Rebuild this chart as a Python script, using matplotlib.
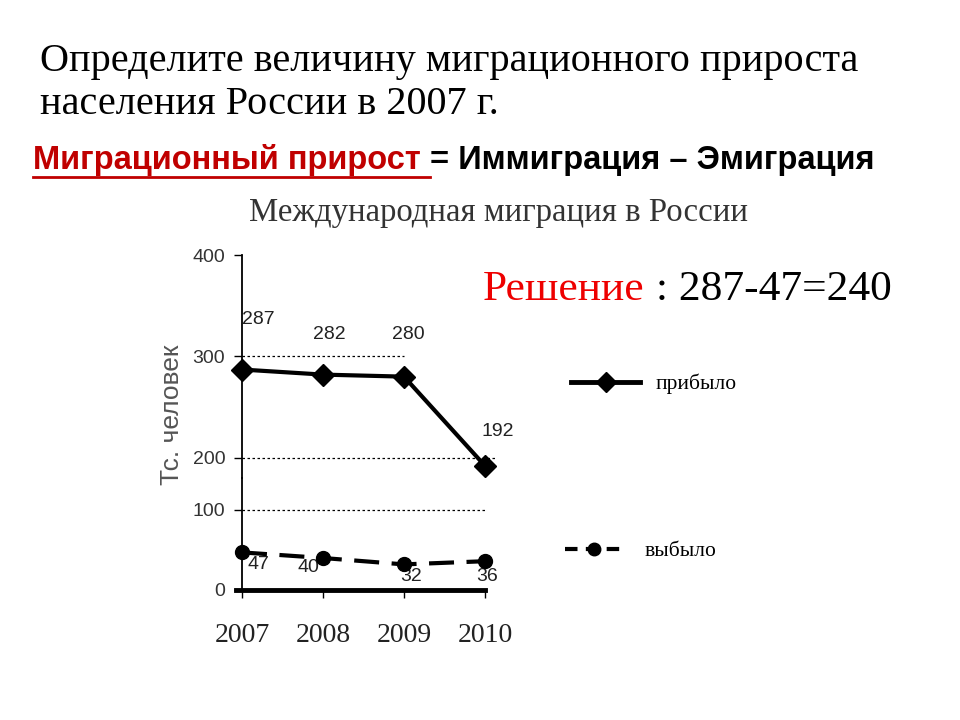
import matplotlib
matplotlib.use('Agg')
import matplotlib.pyplot as plt
from matplotlib.lines import Line2D

# данные графика
years = [2007, 2008, 2009, 2010]
arrived = [287, 282, 280, 192]    # прибыло, тыс. человек
departed = [47, 40, 32, 36]       # выбыло, тыс. человек
upper_ticks = [400, 300, 200]
lower_ticks = [100, 0]

W, H = 960, 720
fig = plt.figure(figsize=(9.6, 7.2), dpi=100)
fig.patch.set_facecolor('white')

def fx(px):
    return px / W

def fy(py):
    return 1 - py / H

# --- тексты слайда ---
fig.text(fx(40), fy(62), 'Определите величину миграционного прироста',
         family='Liberation Serif', fontsize=29, va='center', ha='left')
fig.text(fx(40), fy(105), 'населения России в 2007 г.',
         family='Liberation Serif', fontsize=29, va='center', ha='left')

t1 = fig.text(fx(33), fy(160), 'Миграционный прирост ', family='Liberation Sans',
              fontweight='bold', fontsize=23.5, color='#C00000', va='center', ha='left')
fig.canvas.draw()
bb = t1.get_window_extent()
fig.text(bb.x1 / W, fy(160), '= Иммиграция – Эмиграция', family='Liberation Sans',
         fontweight='bold', fontsize=23.5, color='black', va='center', ha='left')
# подчёркивание
fig.add_artist(Line2D([bb.x0 / W, bb.x1 / W], [fy(177), fy(177)], color='#C00000', lw=2))

fig.text(fx(498), fy(213), 'Международная миграция в России', family='Liberation Serif',
         fontsize=23.6, color='#333333', va='center', ha='center')

t2 = fig.text(fx(483), fy(290), 'Решение', family='Liberation Serif', fontsize=31.3,
              color='#EE0000', va='center', ha='left')
fig.canvas.draw()
bb2 = t2.get_window_extent()
fig.text(bb2.x1 / W, fy(290), ' : 287-47=240', family='Liberation Serif', fontsize=31.3,
         color='black', va='center', ha='left')

# --- оси: верхняя и нижняя части разорванной шкалы ---
left, right = 242, 500
ax_top = fig.add_axes([fx(left), fy(478), fx(right - left), (478 - 255) / H])
ax_bot = fig.add_axes([fx(left), fy(590), fx(right - left), (590 - 478) / H])

xmax = 2010 + 15 / 81
for ax in (ax_top, ax_bot):
    ax.set_xlim(2007, xmax)
    ax.patch.set_alpha(0)
    ax.spines['top'].set_visible(False)
    ax.spines['right'].set_visible(False)
    ax.spines['left'].set_linewidth(1.3)
    ax.tick_params(axis='y', length=6, width=1, labelsize=14, labelcolor='#333333', pad=6)

ax_top.set_ylim(180, 400)
ax_top.spines['bottom'].set_visible(False)
ax_top.set_xticks([])
ax_top.set_yticks(upper_ticks)

ax_bot.set_ylim(0, 140)
ax_bot.set_yticks(lower_ticks)
ax_bot.spines['bottom'].set_linewidth(3.5)
ax_bot.spines['bottom'].set_bounds(2007 - 6 / 81, 2010)
ax_bot.set_xticks(years)
ax_bot.set_xticklabels([str(y) for y in years], family='Liberation Serif',
                       fontsize=20, color='#222222')
ax_bot.tick_params(axis='x', length=6, width=1, pad=18)

for ax in (ax_top, ax_bot):
    for lab in ax.get_yticklabels():
        lab.set_family('Liberation Sans')

# пунктирные линии сетки
ax_top.hlines(300, 2007, 2009, colors='black', linestyles=(0, (2, 2)), lw=0.9)
ax_top.hlines(200, 2007, 2010 + 12 / 81, colors='black', linestyles=(0, (2, 2)), lw=0.9)
ax_bot.hlines(100, 2007, 2010, colors='black', linestyles=(0, (2, 2)), lw=0.9)

# линии данных
ax_top.plot(years, arrived, color='black', lw=3, marker='D', markersize=11,
            clip_on=False, zorder=5)
ax_bot.plot(years, departed, color='black', lw=3, ls=(0, (6, 3)), marker='o',
            markersize=10, clip_on=False, zorder=5)

# подписи значений
up_off = [(16, 50), (6, 40), (4, 42), (13, 34)]
dn_off = [(16, -12), (-15, -9), (7, -12), (2, -15)]
for x, y, (dx, dy) in zip(years, arrived, up_off):
    ax_top.annotate(str(y), (x, y), xytext=(dx * 0.72, dy * 0.72), textcoords='offset points',
                    ha='center', va='center', family='Liberation Sans', fontsize=14,
                    color='#222222', annotation_clip=False)
for x, y, (dx, dy) in zip(years, departed, dn_off):
    ax_bot.annotate(str(y), (x, y), xytext=(dx * 0.72, dy * 0.72), textcoords='offset points',
                    ha='center', va='center', family='Liberation Sans', fontsize=14,
                    color='#222222', annotation_clip=False)

fig.text(fx(172), fy(415), 'Тс. человек', rotation=90, family='Liberation Sans',
         fontsize=19, color='#555555', va='center', ha='center')

# легенда
h_up = Line2D([], [], color='black', lw=3.5, marker='D', markersize=10)
h_dn = Line2D([], [], color='black', lw=3, ls=(0, (3, 2)), marker='o', markersize=9)
fig.legend(handles=[h_up], labels=['прибыло'], loc='center left',
           bbox_to_anchor=(fx(552), fy(384)), frameon=False, handlelength=3.2,
           handletextpad=0.7, prop={'family': 'Liberation Serif', 'size': 15.5})
fig.legend(handles=[h_dn], labels=['выбыло'], loc='center left',
           bbox_to_anchor=(fx(546), fy(551)), frameon=False, handlelength=2.7,
           handletextpad=1.0, prop={'family': 'Liberation Serif', 'size': 15.5})

fig.savefig('out.png', dpi=100)
